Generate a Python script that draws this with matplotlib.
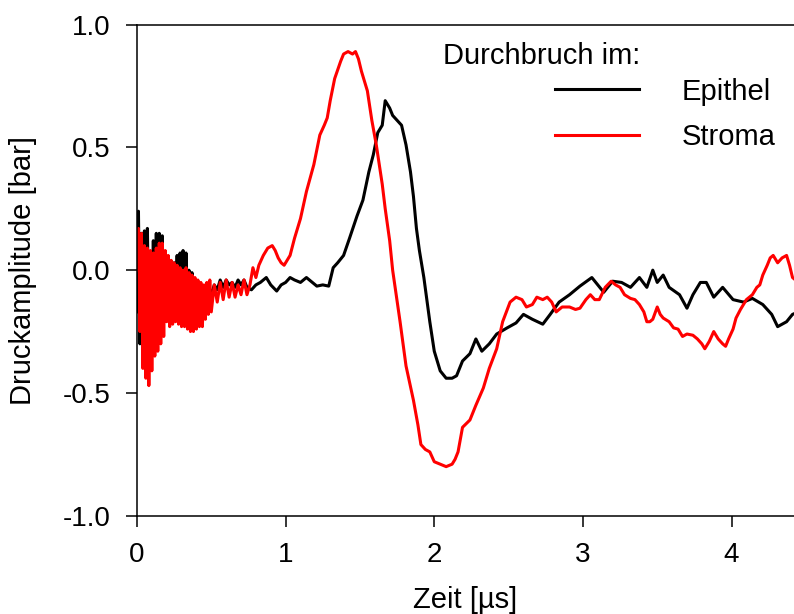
import matplotlib
matplotlib.use('Agg')
import matplotlib.pyplot as plt

plt.rcParams['font.family'] = ['Liberation Sans', 'DejaVu Sans']

# Epithel (black)
t_epi = [0.00, 0.01, 0.02, 0.03, 0.04, 0.05, 0.06, 0.07, 0.08, 0.09,
         0.10, 0.11, 0.12, 0.13, 0.14, 0.15, 0.16, 0.17, 0.18, 0.19,
         0.20, 0.21, 0.22, 0.23, 0.24, 0.25, 0.26, 0.27, 0.28, 0.29,
         0.30, 0.31, 0.32, 0.33, 0.34, 0.35, 0.36, 0.37, 0.38, 0.39,
         0.40, 0.41, 0.42, 0.43, 0.44, 0.45, 0.46, 0.47, 0.48, 0.49, 0.50,
         0.52, 0.54, 0.56, 0.58, 0.60, 0.62, 0.64, 0.66, 0.68, 0.70,
         0.72, 0.74, 0.77, 0.80, 0.83, 0.87, 0.90, 0.94, 0.97, 1.00,
         1.03, 1.06, 1.10, 1.14, 1.18, 1.21, 1.25, 1.29, 1.32, 1.35,
         1.39, 1.43, 1.48, 1.52, 1.56, 1.59, 1.62, 1.65, 1.67, 1.70,
         1.72, 1.75, 1.78, 1.81, 1.84, 1.86, 1.88, 1.90, 1.93, 1.97,
         2.00, 2.04, 2.08, 2.12, 2.15, 2.19, 2.24, 2.28, 2.32, 2.37,
         2.42, 2.49, 2.55, 2.60, 2.66, 2.73, 2.78, 2.84, 2.91, 2.98,
         3.06, 3.10, 3.14, 3.20, 3.26, 3.32, 3.38, 3.43, 3.47, 3.50,
         3.54, 3.58, 3.65, 3.70, 3.74, 3.79, 3.83, 3.88, 3.94, 4.01,
         4.08, 4.14, 4.21, 4.27, 4.31, 4.37, 4.41, 4.45]
p_epi = [-0.17, 0.24, -0.30, 0.15, -0.33, 0.16, -0.25, 0.17, -0.22, 0.05,
         -0.20, 0.12, -0.20, 0.15, -0.18, 0.15, -0.17, 0.14, -0.15, 0.05,
         -0.15, 0.02, -0.14, 0.01, -0.14, 0.03, -0.13, 0.06, -0.13, 0.07,
         -0.12, 0.08, -0.12, 0.07, -0.12, 0.00, -0.13, -0.01, -0.13, -0.06,
         -0.13, -0.09, -0.12, -0.10, -0.13, -0.07, -0.11, -0.06, -0.10, -0.08, -0.10,
         -0.06, -0.08, -0.04, -0.07, -0.04, -0.06, -0.05, -0.07, -0.04, -0.06,
         -0.04, -0.07, -0.08, -0.06, -0.05, -0.03, -0.06, -0.085, -0.06, -0.05,
         -0.03, -0.04, -0.05, -0.03, -0.05, -0.065, -0.06, -0.065, 0.01, 0.03,
         0.06, 0.13, 0.22, 0.285, 0.40, 0.47, 0.56, 0.59, 0.69, 0.66,
         0.63, 0.61, 0.59, 0.51, 0.40, 0.30, 0.17, 0.08, -0.03, -0.21,
         -0.33, -0.41, -0.44, -0.44, -0.43, -0.37, -0.34, -0.28, -0.33, -0.30,
         -0.26, -0.235, -0.215, -0.18, -0.20, -0.22, -0.18, -0.13, -0.10, -0.065,
         -0.03, -0.06, -0.09, -0.045, -0.05, -0.07, -0.03, -0.07, 0.00, -0.05,
         -0.02, -0.07, -0.10, -0.155, -0.10, -0.05, -0.05, -0.11, -0.07, -0.12,
         -0.13, -0.115, -0.14, -0.18, -0.23, -0.21, -0.18, -0.17]

# Stroma (red)
t_str = [0.00, 0.01, 0.02, 0.03, 0.04, 0.05, 0.06, 0.07, 0.08, 0.09,
         0.10, 0.11, 0.12, 0.13, 0.14, 0.15, 0.16, 0.17, 0.18, 0.19,
         0.20, 0.21, 0.22, 0.23, 0.24, 0.25, 0.26, 0.27, 0.28, 0.29,
         0.30, 0.31, 0.32, 0.33, 0.34, 0.35, 0.36, 0.37, 0.38, 0.39,
         0.40, 0.41, 0.42, 0.43, 0.44, 0.45, 0.46, 0.47, 0.48, 0.49, 0.50,
         0.52, 0.54, 0.56, 0.58, 0.60, 0.62, 0.64, 0.66, 0.68, 0.70,
         0.72, 0.74, 0.76, 0.78, 0.80, 0.82, 0.85, 0.88, 0.91, 0.93,
         0.95, 0.97, 0.99, 1.01, 1.03, 1.06, 1.10, 1.14, 1.19, 1.23,
         1.26, 1.28, 1.30, 1.33, 1.37, 1.39, 1.42, 1.45, 1.47, 1.49,
         1.51, 1.55, 1.58, 1.61, 1.65, 1.67, 1.70, 1.72, 1.77, 1.81,
         1.86, 1.89, 1.91, 1.94, 1.97, 2.00, 2.04, 2.08, 2.12, 2.14,
         2.16, 2.19, 2.24, 2.28, 2.33, 2.37, 2.42, 2.46, 2.51, 2.55,
         2.59, 2.62, 2.66, 2.69, 2.73, 2.76, 2.79, 2.82, 2.86, 2.91,
         2.95, 2.98, 3.02, 3.05, 3.08, 3.11, 3.15, 3.19, 3.22, 3.25,
         3.28, 3.32, 3.35, 3.38, 3.41, 3.43, 3.45, 3.47, 3.50, 3.52,
         3.54, 3.58, 3.61, 3.64, 3.67, 3.70, 3.74, 3.77, 3.80, 3.82,
         3.85, 3.88, 3.91, 3.94, 3.96, 3.98, 4.01, 4.03, 4.06, 4.10,
         4.14, 4.17, 4.19, 4.21, 4.24, 4.26, 4.28, 4.31, 4.34, 4.37,
         4.39, 4.41, 4.45]
p_str = [0.00, 0.17, -0.25, 0.15, -0.40, 0.10, -0.44, 0.09, -0.47, 0.08,
         -0.41, 0.07, -0.35, 0.09, -0.33, 0.11, -0.30, 0.11, -0.27, 0.08,
         -0.21, 0.06, -0.23, 0.04, -0.22, 0.03, -0.21, 0.02, -0.22, 0.01,
         -0.23, 0.00, -0.23, 0.01, -0.24, -0.01, -0.25, -0.02, -0.25, -0.03,
         -0.24, -0.04, -0.23, -0.05, -0.23, -0.06, -0.20, -0.05, -0.18, -0.04, -0.17,
         -0.06, -0.13, -0.05, -0.12, -0.04, -0.11, -0.05, -0.11, -0.06, -0.10,
         -0.04, -0.10, -0.06, 0.01, -0.03, 0.02, 0.06, 0.09, 0.10, 0.08,
         0.05, 0.03, 0.02, 0.04, 0.06, 0.13, 0.21, 0.32, 0.43, 0.55,
         0.59, 0.62, 0.69, 0.78, 0.85, 0.88, 0.89, 0.88, 0.89, 0.86,
         0.81, 0.73, 0.61, 0.51, 0.35, 0.25, 0.12, 0.00, -0.21, -0.39,
         -0.53, -0.63, -0.71, -0.73, -0.74, -0.78, -0.79, -0.80, -0.79, -0.77,
         -0.74, -0.64, -0.61, -0.55, -0.48, -0.40, -0.32, -0.21, -0.13, -0.11,
         -0.12, -0.15, -0.14, -0.11, -0.12, -0.11, -0.13, -0.17, -0.15, -0.15,
         -0.16, -0.155, -0.12, -0.10, -0.12, -0.12, -0.07, -0.045, -0.06, -0.07,
         -0.10, -0.115, -0.12, -0.14, -0.17, -0.21, -0.21, -0.20, -0.15, -0.18,
         -0.195, -0.21, -0.235, -0.24, -0.27, -0.26, -0.265, -0.28, -0.30, -0.32,
         -0.29, -0.25, -0.28, -0.30, -0.31, -0.28, -0.24, -0.195, -0.16, -0.12,
         -0.10, -0.07, -0.06, -0.02, 0.02, 0.05, 0.06, 0.03, 0.05, 0.06,
         0.02, -0.03, -0.05]

fig = plt.figure(figsize=(7.94, 6.14), dpi=100)
ax = fig.add_axes([0.1725, 0.16, 0.8275, 0.8])

ax.plot(t_epi, p_epi, color='black', linewidth=2.2, label='Epithel')
ax.plot(t_str, p_str, color='red', linewidth=2.2, label='Stroma')

ax.set_xlim(0, 4.42)
ax.set_ylim(-1.0, 1.0)
ax.set_xticks([0, 1, 2, 3, 4])
ax.set_xticklabels(['0', '1', '2', '3', '4'])
ax.set_yticks([-1.0, -0.5, 0.0, 0.5, 1.0])
ax.set_yticklabels(['-1.0', '-0.5', '0.0', '0.5', '1.0'])
ax.tick_params(direction='out', length=8, width=1.1, labelsize=20, pad=11)
ax.spines['right'].set_visible(False)
for s in ['left', 'bottom', 'top']:
    ax.spines[s].set_linewidth(1.1)

ax.set_xlabel('Zeit [µs]', fontsize=21)
ax.set_ylabel('Druckamplitude [bar]', fontsize=21)
ax.xaxis.set_label_coords(0.5, -0.142)
ax.yaxis.set_label_coords(-0.152, 0.5)

ax.text(0.466, 0.937, 'Durchbruch im:', transform=ax.transAxes,
        fontsize=21, ha='left', va='center')
ax.legend(loc='upper right', bbox_to_anchor=(0.972, 0.892), frameon=False,
          fontsize=21, handlelength=2.9, handletextpad=1.45, labelspacing=0.6,
          borderpad=0, borderaxespad=0)

fig.savefig('out.png', dpi=100)
